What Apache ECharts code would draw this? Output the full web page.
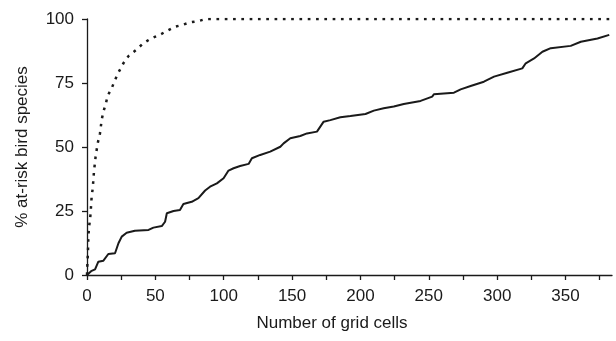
<!DOCTYPE html>
<html>
<head>
<meta charset="utf-8">
<script src="https://cdn.jsdelivr.net/npm/echarts@6/dist/echarts.min.js"></script>
<style>
  html, body { margin: 0; padding: 0; background: #fff; }
  #container { width: 616px; height: 341px; }
</style>
</head>
<body>
<div id="container"></div>
<script>
// observed curve (solid) - cells vs % species
const observedCells = [0, 0.5, 3, 5.9, 8.3, 12, 15.6, 20.5, 23, 25.4, 29, 35, 45, 48.6, 54.7, 57.1, 58.4, 63.3, 68, 70.5,
  76.6, 81.5, 86.4, 90, 95, 99.9, 103.5, 107.2, 112, 118.2, 120.6, 126.7, 134, 141.4, 143.8, 148.7, 156, 160.9, 168.2,
  173.1, 178, 185.3, 192.7, 203.7, 209.8, 217, 224.4, 231.7, 244, 252.5, 253.7, 268.4, 273.3, 280.6, 290.3, 297.7,
  307.4, 318.4, 320.9, 327, 333.1, 339.2, 353.8, 361.2, 373.4, 382]
const observedPct = [0, 0.7, 1.5, 2.2, 5.2, 5.6, 8.2, 8.5, 12.4, 15, 16.5, 17.3, 17.6, 18.5, 19.1, 20.8, 24.1, 25, 25.4, 27.7,
  28.6, 30, 33, 34.5, 35.8, 37.8, 40.8, 41.7, 42.6, 43.4, 45.6, 46.9, 48.2, 50.1, 51.4, 53.4, 54.3, 55.3, 56,
  59.9, 60.5, 61.6, 62.1, 62.9, 64.2, 65.1, 65.8, 66.8, 68, 69.7, 70.6, 71.2, 72.5, 73.8, 75.5, 77.5,
  79, 80.7, 82.7, 84.6, 87.2, 88.6, 89.5, 91.1, 92.4, 93.8]

// optimal curve (dotted)
const optimalCells = [0, 0.2, 0.7, 1, 1.5, 2.2, 2.7, 3.4, 4.2, 5.1, 6.3, 7.8, 9.5, 10.7, 12, 13.8, 15.1, 18.1, 20.5, 22.9,
  26.6, 30.3, 35.9, 41.2, 46.9, 52.7, 58.4, 64.5, 69.8, 75.5, 81.5, 87, 384]
const optimalPct = [0, 3.2, 9, 15, 18.9, 21.5, 24.7, 30.6, 33.9, 40.4, 46.2, 51.4, 55.3, 60.5, 63.8, 67, 70, 73, 76.2, 79,
  82.7, 85.5, 87.9, 90.5, 92.4, 93.7, 95.3, 97, 97.7, 98.7, 99.2, 100, 100]

const xTicks = [0, 25, 50, 75, 100, 125, 150, 175, 200, 225, 250, 275, 300, 325, 350, 375]
const xLabels = [0, 50, 100, 150, 200, 250, 300, 350]
const yTicks = [0, 25, 50, 75, 100]

const pairs = (xs, ys) => xs.map((x, i) => [x, ys[i]])

const ink = '#1a1a1a'
const font = 'Liberation Sans, Arial, Helvetica, sans-serif'

const myChart = echarts.init(document.getElementById('container'))

myChart.setOption({
  animation: false,
  grid: {
    left: 87,
    right: 4,
    top: 19,
    bottom: 66,
  },
  xAxis: {
    type: 'value',
    min: 0,
    max: 384,
    name: 'Number of grid cells',
    nameLocation: 'middle',
    nameGap: 40,
    nameTextStyle: { color: ink, fontSize: 17, fontFamily: font, padding: [0, 35, 0, 0] },
    axisLine: { lineStyle: { color: ink, width: 1.3 } },
    axisTick: { customValues: xTicks, length: 5, lineStyle: { color: ink, width: 1.3 } },
    axisLabel: { customValues: xLabels, margin: 13, color: ink, fontSize: 17, fontFamily: font },
    splitLine: { show: false },
  },
  yAxis: {
    type: 'value',
    min: 0,
    max: 100,
    interval: 25,
    name: '% at-risk bird species',
    nameLocation: 'middle',
    nameGap: 56,
    nameTextStyle: { color: ink, fontSize: 17, fontFamily: font },
    axisLine: { show: true, lineStyle: { color: ink, width: 1.3 } },
    axisTick: { show: true, customValues: yTicks, length: 5, lineStyle: { color: ink, width: 1.3 } },
    axisLabel: { margin: 13, color: ink, fontSize: 17, fontFamily: font },
    splitLine: { show: false },
  },
  series: [
    {
      type: 'line',
      data: pairs(optimalCells, optimalPct),
      showSymbol: false,
      lineStyle: { color: ink, width: 2.5, type: [2.7, 5.6] },
      z: 3,
    },
    {
      type: 'line',
      data: pairs(observedCells, observedPct),
      showSymbol: false,
      lineStyle: { color: ink, width: 2 },
      z: 4,
    },
  ],
})
</script>
</body>
</html>
